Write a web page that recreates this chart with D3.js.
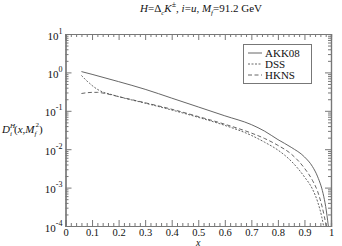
<!DOCTYPE html>
<html><head><meta charset="utf-8">
<script src="https://cdn.jsdelivr.net/npm/d3@7/dist/d3.min.js"></script>
<style>body{margin:0;background:#fff}svg{display:block}text{font-family:"Liberation Serif","DejaVu Serif",serif !important;fill:#111}</style>
</head><body><svg id="c" width="342" height="246"></svg>
<script>
const xTicks=[0,0.1,0.2,0.3,0.4,0.5,0.6,0.7,0.8,0.9,1];
const xTickLabels=["0","0.1","0.2","0.3","0.4","0.5","0.6","0.7","0.8","0.9","1"];
const yTickExps=[-4,-3,-2,-1,0,1];
const seriesNames=["AKK08","DSS","HKNS"];
const akkX=[0.06,0.1,0.2,0.3,0.4,0.5,0.6,0.7,0.75,0.8,0.85,0.9,0.93,0.95,0.97,0.98,0.99];
const akkY=[1.05,0.89,0.575,0.363,0.214,0.126,0.0741,0.0437,0.0295,0.0178,0.0112,0.0063,0.00355,0.0019,0.00071,0.00032,0.0001];
const dssX=[0.06,0.07,0.08,0.09,0.1,0.12,0.14,0.17,0.2,0.3,0.4,0.5,0.6,0.7,0.75,0.8,0.85,0.9,0.93,0.95,0.965,0.972];
const dssY=[0.83,0.708,0.603,0.525,0.457,0.363,0.309,0.269,0.234,0.158,0.105,0.0676,0.0417,0.0229,0.0152,0.0095,0.0049,0.0019,0.00092,0.00042,0.000175,0.0001];
const hknsX=[0.06,0.08,0.1,0.12,0.15,0.2,0.3,0.4,0.5,0.6,0.7,0.75,0.8,0.85,0.9,0.93,0.95,0.965,0.975,0.982];
const hknsY=[0.282,0.295,0.302,0.302,0.282,0.234,0.162,0.110,0.0708,0.0447,0.0263,0.019,0.0126,0.0075,0.0032,0.00155,0.00078,0.00035,0.000176,0.0001];

const svg=d3.select("#c");
const FONT='"Liberation Serif","DejaVu Serif",serif';
const L=65.5,R=331,T=34,B=226;
const x=d3.scaleLinear().domain([0,1]).range([L,R]);
const y=d3.scaleLog().domain([1e-4,10]).range([B,T]);
const axisCol="#777";

const xMinor=d3.range(0,1.0001,0.02).filter(v=>Math.abs(v*10-Math.round(v*10))>1e-6);
const yMinor=[];
for(let e=-4;e<1;e++)for(let k=2;k<=9;k++)yMinor.push(k*Math.pow(10,e));
const yMajor=yTickExps.map(e=>Math.pow(10,e));

function styleAxis(g){g.attr("font-family",FONT);g.select(".domain").attr("stroke",axisCol);g.selectAll(".tick line").attr("stroke",axisCol);}
svg.append("g").attr("transform",`translate(0,${B})`).call(d3.axisBottom(x).tickValues(xMinor).tickSize(-3).tickFormat("")).call(styleAxis);
const gb=svg.append("g").attr("transform",`translate(0,${B})`).call(d3.axisBottom(x).tickValues(xTicks).tickSize(-6).tickFormat((d,i)=>xTickLabels[i])).call(styleAxis);
gb.selectAll("text").attr("font-size",10.5).attr("dy",null).attr("y",10).attr("fill","#111");
svg.append("g").attr("transform",`translate(0,${T})`).call(d3.axisTop(x).tickValues(xMinor).tickSize(-3).tickFormat("")).call(styleAxis);
svg.append("g").attr("transform",`translate(0,${T})`).call(d3.axisTop(x).tickValues(xTicks).tickSize(-6).tickFormat("")).call(styleAxis);
svg.append("g").attr("transform",`translate(${L},0)`).call(d3.axisLeft(y).tickValues(yMinor).tickSize(-3).tickFormat("")).call(styleAxis);
const gl=svg.append("g").attr("transform",`translate(${L},0)`).call(d3.axisLeft(y).tickValues(yMajor).tickSize(-6).tickFormat("")).call(styleAxis);
gl.selectAll(".tick text").each(function(d,i){
  const t=d3.select(this).attr("font-size",11).attr("x",-3).attr("dy",null).attr("y",5).attr("text-anchor","end").attr("fill","#111");
  t.append("tspan").text("10");
  t.append("tspan").attr("font-size",8).attr("dy",-6).text(String(yTickExps[i]));
});
svg.append("g").attr("transform",`translate(${R},0)`).call(d3.axisRight(y).tickValues(yMinor).tickSize(-3).tickFormat("")).call(styleAxis);
svg.append("g").attr("transform",`translate(${R},0)`).call(d3.axisRight(y).tickValues(yMajor).tickSize(-6).tickFormat("")).call(styleAxis);
svg.selectAll(".domain").attr("stroke-width",1.2);

svg.append("defs").append("clipPath").attr("id","pc").append("rect").attr("x",L).attr("y",T).attr("width",R-L).attr("height",B-T);
const line=d3.line().x(d=>x(d[0])).y(d=>y(d[1])).curve(d3.curveMonotoneX);
const series=[
  {name:seriesNames[0],xs:akkX,ys:akkY,dash:null},
  {name:seriesNames[1],xs:dssX,ys:dssY,dash:"2,1.5"},
  {name:seriesNames[2],xs:hknsX,ys:hknsY,dash:"4,2.5"}
];
const gc=svg.append("g").attr("clip-path","url(#pc)");
series.forEach(s=>{
  gc.append("path").datum(s.xs.map((v,i)=>[v,s.ys[i]])).attr("d",line)
    .attr("fill","none").attr("stroke","#555").attr("stroke-width",0.9).attr("stroke-dasharray",s.dash);
});

const lg=svg.append("g").attr("font-family",FONT);
lg.append("rect").attr("x",243.5).attr("y",44.5).attr("width",68).attr("height",39).attr("fill","#fff").attr("stroke","#777");
series.forEach((s,i)=>{
  const yy=53+i*11;
  lg.append("line").attr("x1",248).attr("x2",262).attr("y1",yy).attr("y2",yy).attr("stroke","#555").attr("stroke-width",0.9).attr("stroke-dasharray",s.dash);
  lg.append("text").attr("x",265).attr("y",yy+4).attr("font-size",11).attr("font-family",FONT).text(s.name);
});

const tt=svg.append("text").attr("x",201).attr("y",12).attr("text-anchor","middle").attr("font-size",11).attr("font-style","italic").attr("font-family",FONT);
tt.append("tspan").text("H");
tt.append("tspan").attr("font-style","normal").text("=Δ");
tt.append("tspan").attr("font-size",7).attr("dy",3).text("c");
tt.append("tspan").attr("dy",-3).text("K");
tt.append("tspan").attr("font-size",8).attr("font-style","normal").attr("dy",-5).text("±");
tt.append("tspan").attr("dy",5).attr("font-style","normal").text(", ");
tt.append("tspan").text("i");
tt.append("tspan").attr("font-style","normal").text("=");
tt.append("tspan").text("u");
tt.append("tspan").attr("font-style","normal").text(", ");
tt.append("tspan").text("M");
tt.append("tspan").attr("font-size",7).attr("dy",3).text("f");
tt.append("tspan").attr("font-style","normal").attr("dy",-3).text("=91.2 GeV");

const yl=svg.append("text").attr("x",2).attr("y",133).attr("font-size",11).attr("font-style","italic").attr("font-family",FONT);
yl.append("tspan").text("D");
yl.append("tspan").attr("font-size",7).attr("dy",-5).text("H");
yl.append("tspan").attr("font-size",7).attr("dx",-5).attr("dy",8).text("i");
yl.append("tspan").attr("dy",-3).attr("dx",2).attr("font-style","normal").text("(");
yl.append("tspan").text("x");
yl.append("tspan").attr("font-style","normal").text(",");
yl.append("tspan").text("M");
yl.append("tspan").attr("font-size",7).attr("dy",3).text("f");
yl.append("tspan").attr("font-size",7).attr("font-style","normal").attr("dx",-1).attr("dy",-9).text("2");
yl.append("tspan").attr("font-style","normal").attr("dy",6).text(")");

svg.append("text").attr("x",(L+R)/2).attr("y",245.5).attr("text-anchor","middle").attr("font-size",10).attr("font-style","italic").attr("font-family",FONT).text("x");
</script></body></html>
